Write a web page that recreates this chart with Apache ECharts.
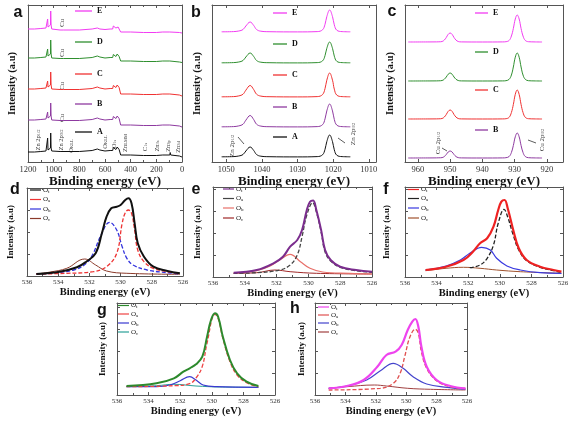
<!DOCTYPE html>
<html><head><meta charset="utf-8">
<script src="https://cdn.jsdelivr.net/npm/echarts@6/dist/echarts.min.js"></script>
<style>html,body{margin:0;padding:0;background:#fff}#c{width:576px;height:422px}</style>
</head><body><div id="c"></div>
<script>
// ---------- DATA ----------
// Panel a: survey spectra [binding energy (eV), intensity]
const a_E = [[1200,133],[1150,133],[1100,133.5],[1060,134],[1050,135],[1047,143],[1044,135],[1030,135],[1025,137],[1023,151],[1020,137],[1015,133],[1000,132],[950,132],[935,133],[925,132],[800,132],[700,133],[660,134],[640,133],[600,132.5],[585,134],[560,133],[540,133],[535,136],[530,134],[515,134],[505,136],[498,135],[490,134],[483,133],[478,130],[400,130],[300,129.5],[290,130.5],[280,129.5],[200,129.5],[150,130],[147,131.5],[142,130],[95,130],[92,132],[88,130],[20,129.5],[15,131],[10,129.5],[0,129]];
const a_D = [[1200,104],[1150,104],[1100,104.5],[1060,105],[1050,106],[1047,113],[1044,106],[1030,106],[1025,108],[1023,122],[1020,108],[1015,104],[1000,103.5],[950,103.5],[935,104.5],[925,103.5],[800,103.5],[700,104.5],[660,106],[640,105],[600,104],[585,105.5],[560,104.5],[540,104.5],[535,107.5],[530,105.5],[515,105.5],[505,108],[498,106.5],[490,105.5],[483,104.5],[478,101],[400,101],[300,100.5],[290,101.5],[280,100.5],[200,100.5],[150,101],[147,102.5],[142,101],[95,101],[92,103],[88,101],[20,100],[15,101.5],[10,100],[0,99.5]];
const a_C = [[1200,73],[1150,73],[1100,73.5],[1060,74],[1050,75],[1047,81],[1044,75],[1030,75],[1025,77],[1023,90],[1020,77],[1015,73],[1000,72.5],[950,72.5],[935,73.5],[925,72.5],[800,72.5],[700,73.5],[660,75],[640,74],[600,73],[585,74.5],[560,73.5],[540,73.5],[535,76.5],[530,74.5],[515,74.5],[505,77],[498,75.5],[490,74.5],[483,73.5],[478,68],[400,68],[300,67.5],[290,68.5],[280,67.5],[200,67.5],[150,68],[147,69.5],[142,68],[95,68],[92,70],[88,68],[20,67],[15,68.5],[10,67],[0,66]];
const a_B = [[1200,42],[1150,42],[1100,42.5],[1060,43],[1050,44],[1047,50],[1044,44],[1030,44],[1025,46],[1023,59],[1020,46],[1015,42],[1000,41.5],[950,41.5],[935,42.5],[925,41.5],[800,41.5],[700,42.5],[660,44],[640,43],[600,42],[585,43.5],[560,42.5],[540,42.5],[535,45.5],[530,43.5],[515,43.5],[505,46],[498,44.5],[490,43.5],[483,42.5],[478,37],[400,37],[300,36.5],[290,37.5],[280,36.5],[200,36.5],[150,37],[147,38.5],[142,37],[95,37],[92,39],[88,37],[20,36],[15,37.5],[10,36],[0,35]];
const a_A = [[1200,10],[1150,10],[1100,10.5],[1060,11],[1050,12],[1047,24],[1044,12],[1030,12],[1025,14],[1023,29],[1020,14],[1015,11],[1000,10.5],[950,10.5],[800,10.5],[700,11.5],[660,13],[640,12],[600,11],[585,12.5],[560,11.5],[540,11.5],[535,14.5],[530,12.5],[515,12.5],[505,15],[498,13.5],[490,12.5],[483,11.5],[478,7],[400,7],[300,6.5],[290,7.5],[280,6.5],[200,6.5],[150,7],[147,9],[142,7],[95,7],[92,9.5],[88,7],[20,6],[15,8],[10,6],[0,5]];

// Panel b: Zn 2p
const b_E = [[1051.3,130.2],[1048,130.4],[1046.5,131],[1045.3,132.5],[1044.5,136],[1043.3,140],[1042.3,136.5],[1041.5,132.5],[1040.3,130.8],[1038,130.3],[1030,130.1],[1024.5,130.4],[1023,132.2],[1022.3,137.7],[1021.8,145.4],[1021,152],[1020.2,145.4],[1019.7,137.2],[1019,131.8],[1017.5,130.4],[1015.2,130.2]];
const b_D = [[1051.3,99.2],[1048,99.4],[1046.5,100],[1045.3,101.5],[1044.5,105],[1043.3,109],[1042.3,105.5],[1041.5,101.5],[1040.3,99.8],[1038,99.3],[1030,99.1],[1024.5,99.4],[1023,101.1],[1022.3,106.4],[1021.8,113.7],[1021,120],[1020.2,113.7],[1019.7,105.9],[1019,100.7],[1017.5,99.4],[1015.2,99.2]];
const b_C = [[1051.3,65.2],[1048,65.4],[1046.5,66.1],[1045.3,67.8],[1044.5,71.8],[1043.3,76.5],[1042.3,72.4],[1041.5,67.8],[1040.3,65.9],[1038,65.3],[1030,65.1],[1024.5,65.4],[1023,67.4],[1022.3,73.4],[1021.8,81.8],[1021,89],[1020.2,81.8],[1019.7,72.9],[1019,66.9],[1017.5,65.4],[1015.2,65.2]];
const b_B = [[1051.3,35.2],[1048,35.4],[1046.5,36.1],[1045.3,37.8],[1044.5,41.8],[1043.3,46.5],[1042.3,42.4],[1041.5,37.8],[1040.3,35.9],[1038,35.3],[1030,35.1],[1024.5,35.4],[1023,37.3],[1022.3,43.1],[1021.8,51.1],[1021,58],[1020.2,51.1],[1019.7,42.6],[1019,36.9],[1017.5,35.4],[1015.2,35.2]];
const b_A = [[1051.3,5.2],[1048,5.4],[1046.5,6],[1045.3,7.5],[1044.5,11],[1043.3,15],[1042.3,11.5],[1041.5,7.5],[1040.3,5.8],[1038,5.3],[1030,5.1],[1024.5,5.4],[1023,7.2],[1022.3,12.7],[1021.8,20.4],[1021,27],[1020.2,20.4],[1019.7,12.2],[1019,6.8],[1017.5,5.4],[1015.2,5.2]];

// Panel c: Cu 2p
const c_E = [[963,120],[955,120.1],[953.5,120.2],[952.5,120.5],[951.8,122],[951.2,124.5],[950.6,127.7],[950,129],[949.4,127.7],[948.8,124.5],[948.2,122],[947.5,120.5],[946.5,120.1],[940,120],[933.7,120.1],[932.7,120.3],[931.7,121.6],[931,126],[930.4,133.5],[929.8,143],[929.2,147],[928.6,143],[928,133.5],[927.4,126],[926.7,121.6],[925.7,120.3],[924,120.1],[921.5,120]];
const c_D = [[963,81],[955,81.1],[953.5,81.2],[952.5,81.5],[951.8,82.8],[951.2,85],[950.6,87.8],[950,89],[949.4,87.8],[948.8,85],[948.2,82.8],[947.5,81.5],[946.5,81.1],[940,81],[933.7,81.1],[932.7,81.3],[931.7,82.7],[931,87],[930.4,95],[929.8,104.8],[929.2,109],[928.6,104.8],[928,95],[927.4,87],[926.7,82.7],[925.7,81.3],[924,81.1],[921.5,81]];
const c_C = [[963,43],[955,43.1],[953.5,43.2],[952.5,43.5],[951.8,45],[951.2,47.5],[950.6,50.7],[950,52],[949.4,50.7],[948.8,47.5],[948.2,45],[947.5,43.5],[946.5,43.1],[940,43],[933.7,43.1],[932.7,43.3],[931.7,44.7],[931,49.5],[930.4,57.5],[929.8,67.6],[929.2,72],[928.6,67.6],[928,57.5],[927.4,49.5],[926.7,44.7],[925.7,43.3],[924,43.1],[921.5,43]];
const c_B = [[963,4],[955,4.1],[953.5,4.2],[952.5,4.4],[951.8,5.5],[951.2,7.5],[950.6,10],[950,11],[949.4,10],[948.8,7.5],[948.2,5.5],[947.5,4.4],[946.5,4.1],[940,4],[933.7,4.1],[932.7,4.3],[931.7,5.5],[931,9.5],[930.4,16.5],[929.8,25.2],[929.2,29],[928.6,25.2],[928,16.5],[927.4,9.5],[926.7,5.5],[925.7,4.3],[924,4.1],[921.5,4]];

// Panel d: O 1s
const d_Ot = [[535.4,2],[533.9,4.3],[532.8,8.7],[532.2,14.3],[531.6,22.7],[531.2,42.7],[530.9,59.3],[530.6,67.7],[530.25,69.3],[530.0,71],[529.7,76],[529.5,77.7],[529.3,72.7],[529.1,52.7],[528.9,32.7],[528.5,19.3],[527.9,9.3],[527.0,5],[526.2,2.7]];
const d_Oa = [[535.4,2],[533.45,2.7],[531.75,4.3],[530.9,9.3],[530.25,22.7],[529.9,52.7],[529.7,63.3],[529.5,66],[529.3,62.7],[529.1,46],[528.9,26],[528.5,14.3],[527.9,7.7],[527.0,4.3],[526.2,2.7]];
const d_Ob = [[535.4,2],[534.5,2.7],[533.0,6],[532.2,12.7],[531.75,22.7],[531.3,39.3],[530.7,53.7],[530.25,46],[529.9,29.3],[529.6,17.7],[529.2,11],[528.3,6],[527.0,3.3],[526.2,2]];
const d_Oc = [[535.4,2],[534.5,4],[533.45,7.7],[532.3,17],[531.6,11],[530.9,5],[529.6,2.7],[526.2,1.7]];

// Panel e
const e_Ot = [[534.7,4.3],[533.25,7],[532.2,13.7],[531.6,20.3],[531.15,30.3],[530.7,37],[530.4,47],[530.1,67],[529.9,75.3],[529.7,76.5],[529.5,67],[529.2,47],[528.95,27],[528.6,17],[528.0,10.3],[527.0,7],[526.0,5.3]];
const e_Oa = [[534.7,3.7],[533.25,4.3],[531.8,7],[531.15,12],[530.7,22],[530.4,40.3],[530.1,62],[529.73,74.3],[529.5,65],[529.2,45],[528.95,25],[528.6,16],[528.0,9.7],[527.0,6.3],[526.0,4.7]];
const e_Ob = [[534.7,3.7],[533.25,6.3],[532.4,11],[531.8,17],[531.15,22.7],[530.5,15.3],[529.9,8.7],[529.1,5],[527.4,3.7],[526.0,3]];
const e_Oc = [[534.7,3.7],[533.25,4.3],[532.1,7],[531.15,5.3],[529.5,3.7],[526.0,3]];

// Panel f
const f_Ot = [[534.7,7],[533.4,10.3],[532.3,17],[531.7,25.3],[531.25,33.7],[530.8,38.7],[530.4,50.3],[530.1,67],[529.9,75.3],[529.7,77],[529.5,68.7],[529.15,47],[528.8,28.7],[528.3,17],[527.45,10.3],[526.6,7],[526.1,5.3]];
const f_Oa = [[531.9,9.3],[531.25,12],[530.8,18.7],[530.4,32],[530.1,53.7],[529.73,67.7],[529.5,60],[529.15,42],[528.8,27],[528.3,16.3],[527.45,9.7],[526.6,6.3],[526.1,4.7]];
const f_Ob = [[534.7,7],[533.4,11],[532.5,17],[531.9,23.7],[531.15,29.7],[530.6,27],[530.2,18.7],[529.55,11],[528.7,7],[527.45,4.3],[526.1,3.7]];
const f_Oc = [[534.7,6.3],[533.4,8.7],[532.3,9.7],[531.25,8.7],[530.2,7],[528.7,5.3],[526.1,3.7]];

// Panel g
const g_Ot = [[535.4,9],[533.5,11.7],[532.4,16.7],[531.8,23.3],[531.4,26.7],[531.0,30.7],[530.6,38.3],[530.3,58.3],[530.05,75],[529.8,81.7],[529.6,78.3],[529.3,58.3],[528.85,35],[528.4,21.7],[527.8,13.3],[527.05,9]];
const g_Oa = [[535.4,8.3],[532.4,9.3],[531.4,11.3],[531.0,17],[530.6,28.7],[530.3,52],[529.8,80.7],[529.6,76.7],[529.3,56.7],[528.85,33.3],[528.4,20],[527.8,12.3],[527.05,8.3]];
const g_Ob = [[535.4,8.3],[533.5,8.3],[532.65,10],[532.0,14.3],[531.4,18.3],[531.0,15],[530.55,10],[529.7,8.3],[527.05,7.7]];
const g_Oc = [[535.4,8.3],[533.5,9.3],[532.4,10.7],[531.0,9],[529.5,8],[527.05,7.7]];

// Panel h
const h_Ot = [[535.1,6.7],[533.9,9],[532.8,15],[531.9,28.3],[531.3,40],[530.7,43.3],[530.3,50],[529.9,65],[529.6,73.3],[529.4,76],[529.2,68.3],[529.0,48.3],[528.65,28.3],[528.0,15],[527.1,9],[526.1,6.7]];
const h_Oa = [[535.1,5],[531.7,6.7],[530.85,11.7],[530.4,21.7],[530.1,38.3],[529.75,58.3],[529.4,65.7],[529.2,61.7],[529.0,43.3],[528.65,26.7],[528.0,14.3],[527.1,8.3],[526.1,6.3]];
const h_Ob = [[535.1,6.7],[533.9,9],[532.6,15],[531.7,24.3],[530.85,31.7],[530.2,26.7],[529.55,18.3],[528.65,11],[527.3,7.7],[526.1,5.7]];
const h_Oc = [[535.1,6.7],[533.9,8.3],[532.1,10],[531.3,9],[529.9,6.7],[528.4,5.7],[526.1,5]];

// Tick labels
const ticksA = [1200,1000,800,600,400,200,0];
const ticksB = [1050,1040,1030,1020,1010];
const ticksC = [960,950,940,930,920];
const ticksO = [536,534,532,530,528,526];
const sampleNames = ['E','D','C','B','A'];
const oNames = ['t','a','b','c'];

// ---------- LAYOUT / STYLE ----------
const SERIF = '"Liberation Serif","DejaVu Serif","Times New Roman",serif';
const SANS = '"Liberation Sans",Arial,sans-serif';
const col = {E:'#f23cf2', D:'#2f8f2f', C:'#f03232', B:'#8e3aa0', A:'#111111'};

const panels = [
  {id:'a', box:[28,5,154,157], xr:[0,1200], ticks:ticksA, yTicks:false, lf:8.5, tf:13, tgap:7, ygap:10.5, yf:10.5,
   series:[[a_E,col.E],[a_D,col.D],[a_C,col.C],[a_B,col.B],[a_A,col.A]].map(s=>({data:s[0],color:s[1],w:1,smooth:false}))},
  {id:'b', box:[212,5,164,157], xr:[1008,1054], ticks:ticksB, yTicks:false, lf:8.5, tf:13, tgap:7, ygap:9.5, yf:10.5,
   series:[[b_E,col.E],[b_D,col.D],[b_C,col.C],[b_B,col.B],[b_A,col.A]].map(s=>({data:s[0],color:s[1],w:1,smooth:0.4}))},
  {id:'c', box:[405,5,158,157], xr:[915,964], ticks:ticksC, yTicks:false, lf:8.5, tf:13, tgap:7, ygap:9.5, yf:10.5,
   series:[[c_E,col.E],[c_D,col.D],[c_C,col.C],[c_B,col.B]].map(s=>({data:s[0],color:s[1],w:1,smooth:0.4}))},
  {id:'d', box:[27,188,156,88], xr:[526,536], ticks:ticksO, yTicks:true, lf:7, tf:10.5, tgap:11, ygap:11.5, yf:9,
   series:[{data:d_Oc,color:'#8b3a2a',w:1},{data:d_Ob,color:'#3333dd',w:1.3,dash:[4,2]},{data:d_Oa,color:'#ee3333',w:1.3,dash:[4,2]},{data:d_Ot,color:'#111',w:2}],
   leg:{colors:['#111','#ee3333','#3333dd','#8b3a2a'], x:30, rows:[190,199.5,209,218.5]}},
  {id:'e', box:[213,187,159,90], xr:[526,536], ticks:ticksO, yTicks:true, lf:7, tf:10.5, tgap:10, ygap:10.5, yf:9,
   series:[{data:e_Oc,color:'#a02828',w:1},{data:e_Ob,color:'#e8706a',w:1.2},{data:e_Oa,color:'#444',w:1.3,dash:[4,2]},{data:e_Ot,color:'#7b2d8e',w:2}],
   leg:{colors:['#7b2d8e','#444','#e8706a','#a02828'], x:223, rows:[189,198.5,208,218]}},
  {id:'f', box:[405,187,158,90], xr:[526,536], ticks:ticksO, yTicks:true, lf:7, tf:10.5, tgap:10, ygap:13.5, yf:9,
   series:[{data:f_Oc,color:'#a0522d',w:1},{data:f_Ob,color:'#3a3ae0',w:1.2},{data:f_Oa,color:'#222',w:1.3,dash:[4,2]},{data:f_Ot,color:'#ee2222',w:2.2}],
   leg:{colors:['#ee2222','#222','#3a3ae0','#a0522d'], x:408, rows:[189.5,198.5,208,218]}},
  {id:'g', box:[117,303,158,92], xr:[526,536], ticks:ticksO, yTicks:true, lf:7, tf:10.5, tgap:8, ygap:9.5, yf:9,
   series:[{data:g_Oc,color:'#2aa198',w:1},{data:g_Ob,color:'#3a3ad0',w:1.2},{data:g_Oa,color:'#ee4444',w:1.3,dash:[4,2]},{data:g_Ot,color:'#2d8a2d',w:2}],
   leg:{colors:['#2d8a2d','#ee4444','#3a3ad0','#2aa198'], x:118, rows:[305.5,314,323,332]}},
  {id:'h', box:[315,303,152,92], xr:[526,536], ticks:ticksO, yTicks:true, lf:7, tf:10.5, tgap:8, ygap:8.5, yf:9,
   series:[{data:h_Oc,color:'#a04040',w:1},{data:h_Ob,color:'#4444cc',w:1.2},{data:h_Oa,color:'#e05050',w:1.3,dash:[4,2]},{data:h_Ot,color:'#ee44ee',w:2.2}],
   leg:{colors:['#ee44ee','#e05050','#4444cc','#a04040'], x:318, rows:[307,315,323,332]}}
];

const letterPos = {a:[18,13],b:[196,13],c:[392,12],d:[15,190],e:[196,190],f:[386,190],g:[102,311],h:[295,309]};

const grid=[], xAxis=[], yAxis=[], series=[], graphic=[];
const AX = '#555';
const plain = v => String(v);
panels.forEach((p,i)=>{
  const [l,t,w,h]=p.box;
  grid.push({left:l, top:t, width:w, height:h, show:false});
  const useCustom = (p.id==='b' || p.id==='c');
  const base = {gridIndex:i, type:'value', min:p.xr[0], max:p.xr[1], inverse:true, splitLine:{show:false}};
  const lbl = {fontSize:p.lf, color:'#333', fontFamily:SERIF, margin:3, formatter:plain};
  const tick = {inside:true, length:3, lineStyle:{color:AX}};
  if (useCustom) { lbl.customValues = p.ticks; tick.customValues = p.ticks; }
  const xb = Object.assign({}, base, {position:'bottom', axisLine:{show:true,onZero:false,lineStyle:{color:AX,width:1}},
    axisTick:tick, axisLabel:lbl, name:'Binding energy (eV)', nameLocation:'middle', nameGap:p.tgap,
    nameTextStyle:{fontFamily:SERIF, fontWeight:'bold', fontSize:p.tf, color:'#111', verticalAlign:'top'}});
  if (!useCustom) { xb.interval = p.id==='a'?200:2; xb.minorTick={show:true,splitNumber:2,length:2,lineStyle:{color:AX}}; }
  xAxis.push(xb);
  const xt = Object.assign({}, base, {position:'top', axisLine:{show:true,onZero:false,lineStyle:{color:AX,width:1}},
    axisTick:Object.assign({},tick), axisLabel:{show:false}});
  if (!useCustom) { xt.interval = p.id==='a'?200:2; xt.minorTick={show:true,splitNumber:2,length:2,lineStyle:{color:AX}}; }
  xAxis.push(xt);
  const ybase = {gridIndex:i, type:'value', min:0, max:h, splitLine:{show:false}, axisLabel:{show:false},
    axisLine:{show:true,onZero:false,lineStyle:{color:AX,width:1}},
    axisTick:{show:p.yTicks, inside:true, length:3, lineStyle:{color:AX}}};
  if (p.yTicks) ybase.interval = 22;
  yAxis.push(Object.assign({}, ybase, {position:'left', name:'Intensity (a.u)', nameLocation:'middle', nameGap:p.ygap,
    nameTextStyle:{fontFamily:SERIF, fontWeight:'bold', fontSize:p.yf, color:'#111'}}));
  yAxis.push(Object.assign({}, ybase, {position:'right'}));
  p.series.forEach((s,k)=>{
    series.push({type:'line', name:p.id+k, xAxisIndex:2*i, yAxisIndex:2*i, data:s.data, showSymbol:false, symbol:'none',
      smooth: s.smooth===undefined?0.4:s.smooth, animation:false, silent:true,
      lineStyle:{color:s.color, width:s.w, type:s.dash||'solid'}, z:3+k});
  });
  const lp = letterPos[p.id];
  graphic.push({type:'text', x:lp[0], y:lp[1], style:{text:p.id, font:'bold 16px '+SANS, fill:'#111', align:'center', verticalAlign:'middle'}});
  if (p.leg) {
    p.leg.rows.forEach((ry,k)=>{
      graphic.push({type:'line', shape:{x1:p.leg.x, y1:ry, x2:p.leg.x+11, y2:ry}, style:{stroke:p.leg.colors[k], lineWidth:1.2}});
      graphic.push({type:'text', x:p.leg.x+13, y:ry, style:{text:'O{s|'+oNames[k]+'}', fontFamily:SERIF, fontSize:7, fill:'#222', verticalAlign:'middle',
        rich:{s:{fontSize:5, fontFamily:SERIF, fill:'#222', verticalAlign:'bottom', padding:[3,0,0,0]}}}});
    });
  }
});

// sample legends for a, b, c
const sLeg = [
  {x1:75, x2:92, tx:97, rows:[11,42,74,104,132], names:sampleNames},
  {x1:273, x2:287, tx:292, rows:[13,44,75,107,137], names:sampleNames},
  {x1:475, x2:488, tx:493, rows:[13,52,90,130], names:['E','D','C','B']}
];
sLeg.forEach(L=>{
  L.rows.forEach((ry,k)=>{
    const n=L.names[k];
    graphic.push({type:'line', shape:{x1:L.x1,y1:ry,x2:L.x2,y2:ry}, style:{stroke:col[n], lineWidth:1.3}});
    graphic.push({type:'text', x:L.tx, y:ry, style:{text:n, font:'bold 8px '+SERIF, fill:'#111', verticalAlign:'middle'}});
  });
});

function vtext(x,y,txt,fs){
  graphic.push({type:'text', x:x, y:y, rotation:Math.PI/2,
    style:{text:txt, fontFamily:SERIF, fontSize:fs||6.5, fill:'#444', align:'center', verticalAlign:'middle',
      rich:{s:{fontSize:4.5, fontFamily:SERIF, fill:'#444', verticalAlign:'bottom'}}}});
}
// Cu labels in survey
[[62,23],[62,53],[62,86],[62,118]].forEach(q=>vtext(q[0],q[1],'Cu',7));
// survey annotations
vtext(38,140,'Zn 2p{s|1/2}'); vtext(61,140,'Zn 2p{s|3/2}'); vtext(71,146,'O{s|KLL}');
vtext(105,142,'O{s|KLL}'); vtext(114,144,'O{s|1s}'); vtext(125,143,'Zn{s|LMM}');
vtext(145,147,'C{s|1s}'); vtext(157,146,'Zn{s|3s}'); vtext(168,146,'Zn{s|3p}'); vtext(178,147,'Zn{s|3d}');
// b, c annotations
vtext(232,146,'Zn 2p{s|1/2}',7); vtext(353,134,'Zn 2p{s|3/2}',7);
vtext(438,143,'Cu 2p{s|1/2}',7); vtext(542,140,'Cu 2p{s|3/2}',7);
[[238,137,244,144],[345,143,338,138],[442,148,447,151],[536,143,528,140]].forEach(s=>{
  graphic.push({type:'line', shape:{x1:s[0],y1:s[1],x2:s[2],y2:s[3]}, style:{stroke:'#333', lineWidth:0.8}});
});

const chart = echarts.init(document.getElementById('c'), null, {renderer:'canvas'});
chart.setOption({animation:false, backgroundColor:'#fff', grid, xAxis, yAxis, series, graphic});
</script></body></html>
